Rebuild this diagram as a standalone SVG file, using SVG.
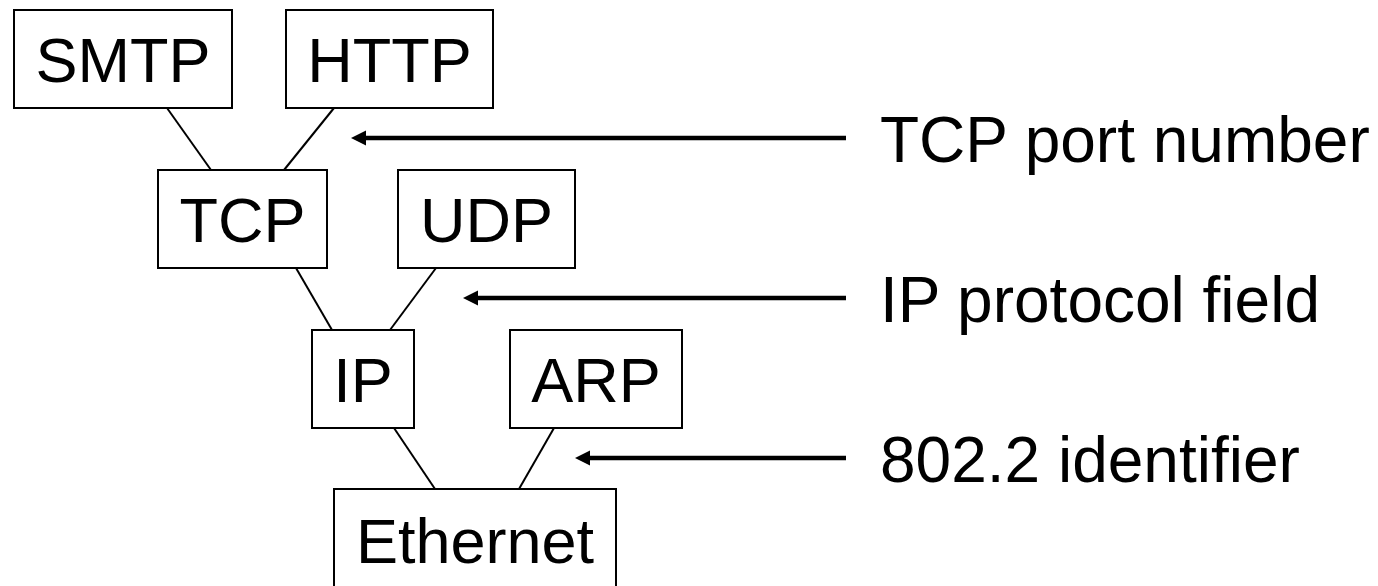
<svg xmlns="http://www.w3.org/2000/svg" width="1378" height="586" viewBox="0 0 1378 586">
<style>
.box{fill:#fff;stroke:#000;stroke-width:2}
.t{font-family:"Liberation Sans",Arial,sans-serif;font-size:63px;fill:#000;text-anchor:middle}
.lbl{font-family:"Liberation Sans",Arial,sans-serif;font-size:64px;fill:#000}
.c{stroke:#000;stroke-width:2;fill:none}
.a{stroke:#000;stroke-width:4.5;fill:none;marker-end:url(#ah)}
</style>
<defs>
<marker id="ah" markerUnits="userSpaceOnUse" markerWidth="16" markerHeight="16" refX="5" refY="7.5" orient="auto">
<path d="M0,0 L15,7.5 L0,15 z" fill="#000"/>
</marker>
</defs>
<rect width="1378" height="586" fill="#fff"/>
<g id="connectors">
<line class="c" x1="167" y1="108" x2="211" y2="170"/>
<line class="c" x1="334" y1="108" x2="284" y2="170"/>
<line class="c" x1="296" y1="268" x2="332" y2="330"/>
<line class="c" x1="436" y1="268" x2="390" y2="330"/>
<line class="c" x1="394" y1="428" x2="435" y2="489"/>
<line class="c" x1="554" y1="428" x2="519" y2="489"/>
<line class="a" x1="846" y1="138" x2="361" y2="138"/>
<line class="a" x1="846" y1="298" x2="473" y2="298"/>
<line class="a" x1="846" y1="458" x2="585" y2="458"/>
</g>
<g id="smtp"><rect class="box" x="14" y="10" width="218" height="98"/><text class="t" x="123" y="82">SMTP</text></g>
<g id="http"><rect class="box" x="286" y="10" width="207" height="98"/><text class="t" x="389.5" y="82">HTTP</text></g>
<g id="tcp"><rect class="box" x="158" y="170" width="169" height="98"/><text class="t" x="242.5" y="242">TCP</text></g>
<g id="udp"><rect class="box" x="398" y="170" width="177" height="98"/><text class="t" x="486.5" y="242">UDP</text></g>
<g id="ip"><rect class="box" x="312" y="330" width="102" height="98"/><text class="t" x="363" y="402">IP</text></g>
<g id="arp"><rect class="box" x="510" y="330" width="172" height="98"/><text class="t" x="596" y="402">ARP</text></g>
<g id="ethernet"><rect class="box" x="334" y="489" width="282" height="120"/><text class="t" x="475" y="563">Ethernet</text></g>
<g id="labels">
<text class="lbl" x="880" y="162">TCP port number</text>
<text class="lbl" x="880" y="322">IP protocol field</text>
<text class="lbl" x="880" y="482">802.2 identifier</text>
</g>
</svg>
